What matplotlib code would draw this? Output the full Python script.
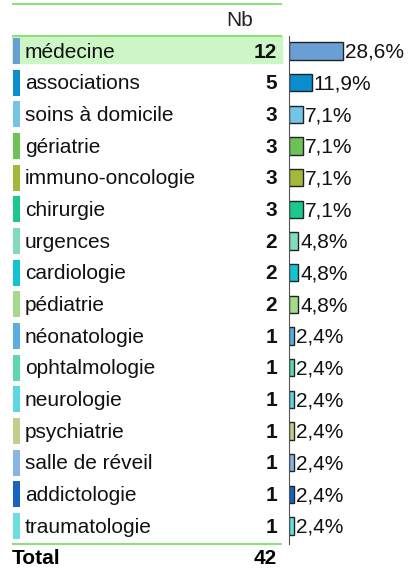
import matplotlib
matplotlib.use("Agg")
import matplotlib.pyplot as plt
from matplotlib.patches import Rectangle

plt.rcParams["font.family"] = ["Liberation Sans", "DejaVu Sans"]

# Data
categories = [
    "médecine", "associations", "soins à domicile", "gériatrie",
    "immuno-oncologie", "chirurgie", "urgences", "cardiologie",
    "pédiatrie", "néonatologie", "ophtalmologie", "neurologie",
    "psychiatrie", "salle de réveil", "addictologie", "traumatologie",
]
counts = [12, 5, 3, 3, 3, 3, 2, 2, 2, 1, 1, 1, 1, 1, 1, 1]
colors = [
    "#6a9fd6", "#0a8ed0", "#74c4e6", "#6cc254",
    "#a4b83c", "#1cc98c", "#80dcc0", "#14c2d4",
    "#a6d98a", "#5caee0", "#5cd8ac", "#5cd6e0",
    "#c0cf8a", "#8ab4e2", "#1464c0", "#6cdee0",
]
header = "Nb"
total_label = "Total"
total = sum(counts)

green_line = "#8ee07a"
highlight = "#ccf6c6"
fs = 15

fig = plt.figure(figsize=(4.08, 5.69), dpi=100)
n = len(categories)

# table axes: x in pixels, y in row index
ax = fig.add_axes([0, 0, 1, 1])
ax.set_xlim(0, 408)
row0, step = 51, 31.67
ax.set_ylim((569 - row0) / step, -row0 / step)
ax.axis("off")

# header + separator lines
ax.text(253, -0.95, header, ha="right", va="center", fontsize=fs, color="#222222")
ax.hlines([-1.48, -0.48, n - 0.44], 12, 282, color=green_line, lw=1.5)
ax.add_patch(Rectangle((12, -0.47), 270, 0.86, color=highlight, zorder=0))

ty = 0.04  # small downward nudge of text
for i, (cat, c, col) in enumerate(zip(categories, counts, colors)):
    ax.add_patch(Rectangle((13, i - 0.41), 7, 0.82, color=col, lw=0))
    ax.text(25, i + ty, cat, ha="left", va="center", fontsize=fs, color="#111111")
    ax.text(277, i + ty, str(c), ha="right", va="center", fontsize=fs,
            fontweight="bold", color="#111111")

ax.text(12, n + ty, total_label, ha="left", va="center", fontsize=fs, fontweight="bold")
ax.text(277, n + ty, str(total), ha="right", va="center", fontsize=fs, fontweight="bold")

# bar axes
axb = fig.add_axes([289 / 408, 0, 119 / 408, 1], sharey=ax)
axb.set_xlim(0, 12 * 119 / 54)
axb.barh(range(n), counts, height=0.55, color=colors, edgecolor="#222222", lw=1)
for i, c in enumerate(counts):
    pct = f"{100 * c / total:.1f}%".replace(".", ",")
    axb.annotate(pct, (c, i + ty), xytext=(1.5, 0), textcoords="offset points",
                 ha="left", va="center", fontsize=fs, color="#111111")
for s in ["top", "right", "bottom"]:
    axb.spines[s].set_visible(False)
axb.spines["left"].set_bounds(-0.48, n - 0.44)
axb.spines["left"].set_color("#555555")
axb.set_xticks([])
axb.tick_params(left=False, labelleft=False)
axb.patch.set_alpha(0)

fig.savefig("out.png", dpi=100)
